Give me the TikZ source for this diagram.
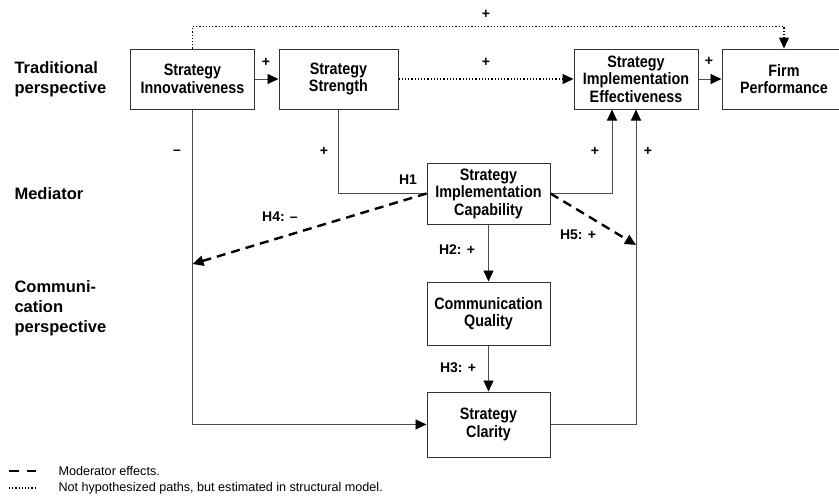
\documentclass[tikz,border=0pt]{standalone}
\usepackage{fontspec}
\setmainfont{Liberation Sans}
\newfontfamily\narrowsf[FakeStretch=0.87]{Liberation Sans}
\usetikzlibrary{arrows.meta}
\newcommand\boxsty{\narrowsf\bfseries\fontsize{16.5}{17.5}\selectfont}
\newcommand\sgnsty{\bfseries\fontsize{14}{16}\selectfont}

\begin{document}
\begin{tikzpicture}[x=1pt,y=-1pt,
  box/.style={draw=black!80,line width=1pt,minimum width=124pt,minimum height=60pt,inner sep=0pt,align=center,font=\boxsty},
  link/.style={draw=black!70,line width=0.9pt},
  est/.style={draw=black,line width=1.2pt,dotted},
  moder/.style={draw=black,line width=2.4pt,dash pattern=on 9pt off 6pt},
  tip/.style={-{Triangle[length=11pt,width=10pt,color=black]}},
  sign/.style={font=\sgnsty},
  side/.style={anchor=west,align=left,font=\bfseries\fontsize{16.5}{20}\selectfont},
  legend/.style={anchor=west,font=\fontsize{12.6}{15}\selectfont}]
\useasboundingbox (0,0) rectangle (839,496);
\node[box] (innov) at (192.5,79) {Strategy\\Innovativeness};
\node[box,minimum width=119pt] (strength) at (338.5,79) {Strategy\\Strength};
\node[box] (sie) at (636,79) {Strategy\\Implementation\\Effectiveness};
\node[box] (firm) at (784,79) {Firm\\Performance};
\node[box,minimum width=123pt,minimum height=61pt] (sic) at (488.5,193.5) {Strategy\\Implementation\\Capability};
\node[box,minimum width=123pt,minimum height=63pt] (cq) at (488.5,313.5) {Communication\\Quality};
\node[box,minimum width=123pt,minimum height=65pt] (clar) at (488.5,424.5) {Strategy\\Clarity};
\coordinate (m4) at (192.5,264);
\coordinate (m5) at (636,245);
\draw[link,tip] (innov) -- (strength);
\draw[est,tip] (strength) -- (sie);
\draw[link,tip] (sie) -- (firm);
\draw[est,tip] (innov.north) -- ++(0,-22) -| (firm.north);
\draw[link,tip] (innov.south) |- (clar.west);
\draw[link] (strength.south) |- (sic.west);
\draw[link,tip] (sic.east) -| ([xshift=-24pt]sie.south);
\draw[link,tip] (clar.east) -| (sie.south);
\draw[link,tip] (sic) -- (cq);
\draw[link,tip] (cq) -- (clar);
\draw[moder,tip] (sic.west) -- (m4);
\draw[moder,tip] (sic.east) -- (m5);
\foreach\n/\x/\y in {a/266/62,b/486/62,c/709/61,d/486/14,e/324/151,f/595/151,g/648/151}
  \node[sign] (plus\n) at (\x,\y) {+};
\node[sign] (minus) at (177,152) {–};
\node[sign] (hone) at (408,180) {H1};
\node[sign] (htwo) at (457,250) {H2: +};
\node[sign] (hthree) at (458,368) {H3: +};
\node[sign] (hfour) at (280,217) {H4: –};
\node[sign] (hfive) at (578,235) {H5: +};
\node[side] (trad) at (11,79) {Traditional\\perspective};
\node[side] (medi) at (11,194) {Mediator};
\node[side] (comm) at (11,308) {Communi-\\cation\\perspective};
\draw[moder,dash pattern=on 10pt off 8pt] (9,471) -- (36,471);
\draw[est] (9,488) -- (36,488);
\node[legend] (lgmod) at (55,471) {Moderator effects.};
\node[legend] (lgest) at (55,488) {Not hypothesized paths, but estimated in structural model.};
\end{tikzpicture}
\end{document}
